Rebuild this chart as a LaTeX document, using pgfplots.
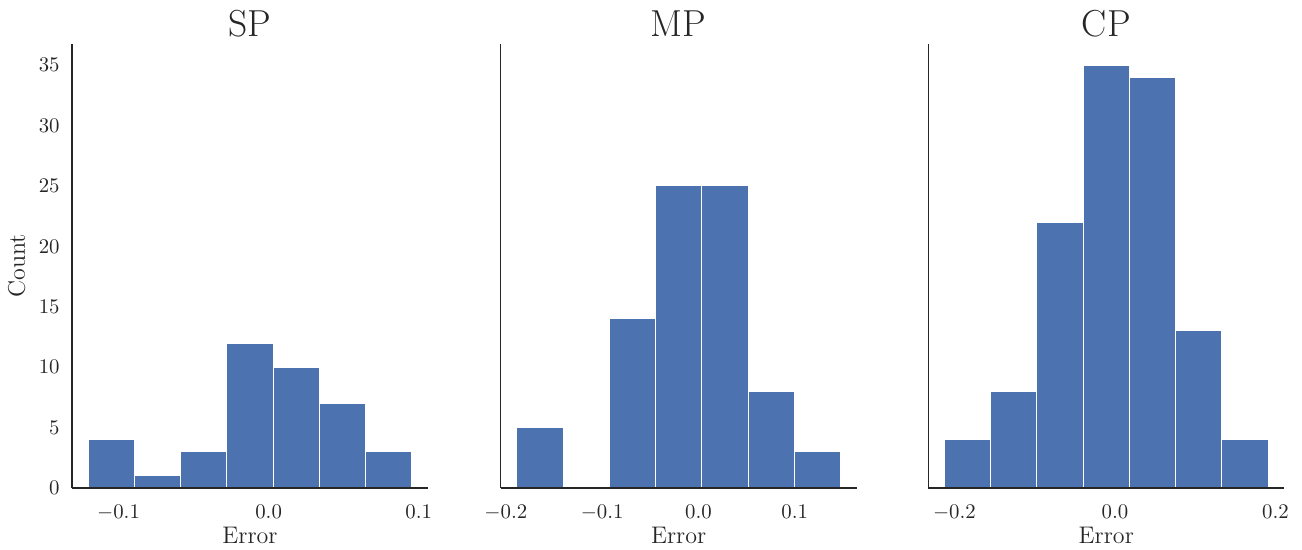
\RequirePackage{fix-cm}
\documentclass[border=0pt]{standalone}
\usepackage{pgfplots}
\pgfplotsset{compat=1.18}
\definecolor{sbblue}{HTML}{4C72B0}
\definecolor{spine}{HTML}{262626}
\pgfplotsset{myhist/.style={
  scale only axis, width=178pt, height=222pt,
  ymin=0, ymax=36.75,
  axis on top,
  axis x line*=bottom, axis y line*=left,
  axis line style={-, line width=0.75pt, color=spine},
  major tick length=0pt, tick style={draw=none},
  ticklabel style={font=\fontsize{10.4}{12}\selectfont, text=spine},
  xticklabel style={anchor=north, inner sep=0pt, yshift=-8.5pt},
  yticklabel style={anchor=east, inner sep=0pt, xshift=-6pt},
  xticklabel={\pgfmathprintnumber[fixed,fixed zerofill,precision=1]{\tick}},
  scaled x ticks=false,
  xlabel={Error},
  xlabel style={at={(axis description cs:0.5,0)}, anchor=base, yshift=-28pt, font=\fontsize{12}{14}\selectfont, text=spine},
  every axis title shift=0pt,
  title style={at={(axis description cs:0.5,1)}, anchor=base, yshift=3.6pt, font=\fontsize{18.8}{22}\selectfont, text=spine},
  clip=false,
}}
\begin{document}
\begin{tikzpicture}
\path[use as bounding box] (-36pt,-31pt) rectangle (615pt,244pt);
\begin{axis}[myhist, at={(0pt,0pt)}, anchor=south west,
  xmin=-0.1310, xmax=0.1062, xtick={-0.1,0,0.1}, ytick={0,5,...,35}, title={SP}]
\addplot[ybar interval, fill=sbblue, draw=white, line width=0.5pt] coordinates {
(-0.1202,4) (-0.0894,1) (-0.0586,3) (-0.0278,12) (0.0030,10) (0.0338,7) (0.0646,3) (0.0954,3)};
\end{axis}
\node[rotate=90, anchor=base, font=\fontsize{12}{14}\selectfont, text=spine] at (-23.5pt,111pt) {Count};
\begin{axis}[myhist, at={(214.35pt,0pt)}, anchor=south west,
  xmin=-0.2053, xmax=0.1643, xtick={-0.2,-0.1,0,0.1}, ytick=\empty, title={MP}]
\addplot[ybar interval, fill=sbblue, draw=white, line width=0.5pt] coordinates {
(-0.1885,5) (-0.1405,0) (-0.0925,14) (-0.0445,25) (0.0035,25) (0.0515,8) (0.0995,3) (0.1475,3)};
\end{axis}
\begin{axis}[myhist, at={(428.15pt,0pt)}, anchor=south west,
  xmin=-0.2325, xmax=0.2111, xtick={-0.2,0,0.2}, ytick=\empty, title={CP}]
\addplot[ybar interval, fill=sbblue, draw=white, line width=0.5pt] coordinates {
(-0.2123,4) (-0.1547,8) (-0.0971,22) (-0.0395,35) (0.0181,34) (0.0757,13) (0.1333,4) (0.1909,4)};
\end{axis}
\end{tikzpicture}
\end{document}
